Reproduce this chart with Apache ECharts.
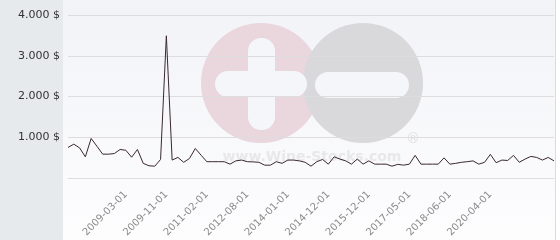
<!DOCTYPE html>
<html><head><meta charset="utf-8">
<script src="https://cdn.jsdelivr.net/npm/echarts@6/dist/echarts.min.js"></script>
<style>html,body{margin:0;padding:0;background:#fff}#c{width:560px;height:240px}</style>
</head><body><div id="c"></div>
<script>
const dates = [
'2008-04-01','2008-05-01','2008-06-01','2008-07-01','2008-09-01','2008-10-01','2008-11-01','2008-12-01','2009-01-01','2009-02-01',
'2009-03-01','2009-04-01','2009-05-01','2009-06-01','2009-07-01','2009-09-01','2009-10-01','2009-11-01','2010-01-01','2010-03-01',
'2010-05-01','2010-07-01','2010-09-01','2010-11-01','2011-02-01','2011-05-01','2011-07-01','2011-10-01','2011-12-01','2012-03-01',
'2012-05-01','2012-08-01','2012-10-01','2013-01-01','2013-03-01','2013-06-01','2013-08-01','2013-11-01','2014-01-01','2014-03-01',
'2014-04-01','2014-06-01','2014-08-01','2014-09-01','2014-11-01','2014-12-01','2015-02-01','2015-04-01','2015-05-01','2015-07-01',
'2015-08-01','2015-10-01','2015-12-01','2016-02-01','2016-05-01','2016-07-01','2016-09-01','2016-11-01','2017-02-01','2017-05-01',
'2017-06-01','2017-08-01','2017-10-01','2017-12-01','2018-02-01','2018-04-01','2018-06-01','2018-09-01','2018-12-01','2019-03-01',
'2019-06-01','2019-09-01','2019-12-01','2020-04-01','2020-07-01','2020-10-01','2021-01-01','2021-04-01','2021-07-01','2021-10-01',
'2022-01-01','2022-04-01','2022-07-01','2022-10-01','2023-01-01'];
const prices = [
750,830,740,520,970,780,585,585,600,700,
680,510,700,360,300,290,455,3490,440,505,
385,480,725,560,400,400,400,400,340,420,
440,400,395,385,315,315,400,360,440,440,
420,385,290,400,455,340,520,465,420,340,
465,340,420,340,340,340,290,335,315,340,
555,340,340,340,340,495,340,360,385,400,
420,340,385,580,375,440,430,555,385,465,
530,505,440,505,420];
const tickDates = ['2009-03-01','2009-11-01','2011-02-01','2012-08-01','2014-01-01','2014-12-01','2015-12-01','2017-05-01','2018-06-01','2020-04-01'];
const yTicks = [0,1000,2000,3000,4000];

function fmt(v){
  if (v === 0) return '';
  const s = String(v);
  return s.replace(/\B(?=(\d{3})+(?!\d))/g, '.') + ' $';
}

const chart = echarts.init(document.getElementById('c'), null, {renderer:'canvas'});
chart.setOption({
  animation:false,
  backgroundColor:'#ffffff',
  graphic:[
    {type:'rect', z:-30, silent:true, shape:{x:0,y:0,width:63,height:240}, style:{fill:'#e6eaed'}},
    {type:'rect', z:-30, silent:true, shape:{x:63,y:0,width:492,height:240},
      style:{fill:new echarts.graphic.LinearGradient(0,0,0,1,[{offset:0,color:'#f2f3f7'},{offset:1,color:'#fdfdfe'}])}},
    {type:'line', z:-29, silent:true, shape:{x1:555.5,y1:0,x2:555.5,y2:240}, style:{stroke:'#dcdcdf',lineWidth:1}},
    {type:'circle', z:-20, silent:true, shape:{cx:261,cy:83,r:60}, style:{fill:'#ead6dd'}},
    {type:'circle', z:-19, silent:true, shape:{cx:363,cy:83,r:60}, style:{fill:'#d9d9db'}},
    {type:'rect', z:-18, silent:true, shape:{x:248,y:38,width:27,height:92,r:13}, style:{fill:'#f5f6f9'}},
    {type:'rect', z:-18, silent:true, shape:{x:215,y:71,width:92,height:26,r:13}, style:{fill:'#f5f6f9'}},
    {type:'rect', z:-18, silent:true, shape:{x:315,y:72,width:94,height:26,r:13}, style:{fill:'#f5f6f9'}},
    {type:'text', z:-17, silent:true, style:{x:312,y:157,text:'www.Wine-Stocks.com',fill:'#e8e8eb',font:'bold 14px "DejaVu Sans"',textAlign:'center',textVerticalAlign:'middle'}},
    {type:'text', z:-17, silent:true, style:{x:413,y:139,text:'®',fill:'#e0e0e2',font:'14px "DejaVu Sans"',textAlign:'center',textVerticalAlign:'middle'}}
  ],
  grid:{left:68,right:6,top:15,bottom:62,containLabel:false},
  xAxis:{
    type:'category', data:dates, boundaryGap:false,
    axisLine:{show:true,lineStyle:{color:'#dddddd'}},
    axisTick:{show:false},
    axisLabel:{
      interval:function(i,v){return tickDates.indexOf(v) >= 0;},
      rotate:45, color:'#8a8a8a', fontSize:10, fontFamily:'DejaVu Sans', margin:15
    },
    splitLine:{show:false}
  },
  yAxis:{
    type:'value', min:yTicks[0], max:yTicks[yTicks.length-1], interval:1000,
    axisLine:{show:false}, axisTick:{show:false},
    axisLabel:{formatter:fmt, color:'#333333', fontSize:11, fontFamily:'DejaVu Sans', margin:8},
    splitLine:{lineStyle:{color:'#dddddd',width:1}}
  },
  series:[{
    type:'line', data:prices, showSymbol:false, symbol:'none',
    lineStyle:{color:'#3a2830', width:1}
  }]
});
</script>
</body></html>
